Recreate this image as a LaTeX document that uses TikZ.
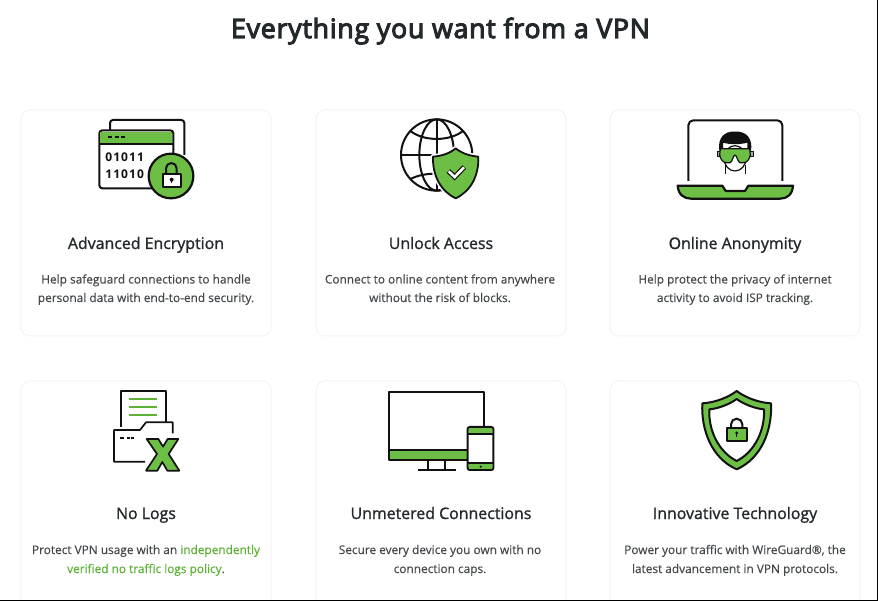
\documentclass[tikz,border=0pt]{standalone}
\usepackage{fontspec}
\setmainfont{Open Sans}
\newfontfamily\titlefont[FakeBold=4,LetterSpace=3.1]{Open Sans}
\newfontfamily\headfont[FakeBold=1.2]{Open Sans}
\newfontfamily\bodyfont[FakeBold=0.3]{Open Sans}
\newfontfamily\bitfont[LetterSpace=9]{Open Sans Bold}
\definecolor{vgreen}{HTML}{6DBE45}
\definecolor{vlink}{HTML}{5DB135}
\definecolor{vink}{HTML}{111111}
\definecolor{vtitle}{HTML}{23282B}
\definecolor{vbody}{HTML}{45494C}
\definecolor{vcard}{HTML}{F4F4F4}
\tikzset{
  card/.style={draw=vcard,line width=1pt,rounded corners=9pt,fill=white},
  headline/.style={anchor=base,font=\titlefont\fontsize{26.6}{32}\selectfont,text=vtitle,inner sep=0pt},
  cardtitle/.style={anchor=base,font=\headfont\fontsize{15.9}{20}\selectfont,text=vtitle,inner sep=0pt},
  cardbody/.style={anchor=base,font=\bodyfont\fontsize{11.85}{18}\selectfont,text=vbody,inner sep=0pt},
  ink/.style={draw=vink,line width=2pt,line join=round},
  thin/.style={draw=vink,line width=1.7pt,line join=round},
  icon/.style={x=0.33333pt,y=-0.33333pt},
  bits/.style={inner sep=0pt,font=\bitfont\fontsize{12}{14}\selectfont,text=vink},
}
\begin{document}
\begin{tikzpicture}[x=1pt,y=-1pt]
\useasboundingbox (0,0) rectangle (878,601);
\fill[white] (0,0) rectangle (878,601);
% cards
\begin{scope}
\clip (0,0) rectangle (878,601);
\foreach \cx in {21,316,610}{
  \draw[card] (\cx,110) rectangle ++(250,226);
  \draw[card] (\cx,381) rectangle ++(250,240);
}
\end{scope}
\draw[black,line width=1pt] (877.5,0) -- (877.5,600.5) -- (0,600.5);
% title
\node[headline] (title) at (440.5,38) {Everything you want from a VPN};
% texts
\node[cardtitle] (t1) at (146,249) {Advanced Encryption};
\node[cardbody] (b1a) at (146,283.5) {Help safeguard connections to handle};
\node[cardbody] (b1b) at (146,302) {personal data with end-to-end security.};
\node[cardtitle] (t2) at (441,249) {Unlock Access};
\node[cardbody] (b2a) at (440,283.5) {Connect to online content from anywhere};
\node[cardbody] (b2b) at (440,302) {without the risk of blocks.};
\node[cardtitle] (t3) at (735,249) {Online Anonymity};
\node[cardbody] (b3a) at (735,283.5) {Help protect the privacy of internet};
\node[cardbody] (b3b) at (735,302) {activity to avoid ISP tracking.};
\node[cardtitle] (t4) at (146,519) {No Logs};
\node[cardbody] (b4a) at (146,554) {Protect VPN usage with an \textcolor{vlink}{independently}};
\node[cardbody] (b4b) at (146,573) {\textcolor{vlink}{verified no traffic logs policy}.};
\node[cardtitle] (t5) at (441,519) {Unmetered Connections};
\node[cardbody] (b5a) at (440,554) {Secure every device you own with no};
\node[cardbody] (b5b) at (440,573) {connection caps.};
\node[cardtitle] (t6) at (735,519) {Innovative Technology};
\node[cardbody] (b6a) at (735,554) {Power your traffic with WireGuard®, the};
\node[cardbody] (b6b) at (735,573) {latest advancement in VPN protocols.};
% icon 1 encryption
\begin{scope}[shift={(80,105)},icon]
\draw[ink,rounded corners=3pt] (90,76) -- (90,45) -- (313,45) -- (313,150);
\draw[ink,fill=white,rounded corners=3pt] (58,76) rectangle (280,250);
\fill[vgreen] (61,80) rectangle (277,114);
\draw[ink] (58,116) -- (280,116);
\draw[vink,line width=2pt] (85,97) -- (97,97) (105,97) -- (117,97) (124,97) -- (136,97);
\node[bits] (bin1) at (134,157) {01011};
\node[bits] (bin2) at (134,208) {11010};
\draw[ink,fill=vgreen,line width=2.2pt] (273,213) circle (67);
\draw[ink] (258,207) -- (258,190) arc (180:360:16) -- (290,207);
\draw[ink,fill=white] (248,207) rectangle (302,247);
\fill[vink] (275,224) circle (6);
\draw[vink,line width=1.4pt] (275,224) -- (275,235);
\end{scope}
% icon 2 globe
\begin{scope}[shift={(390,110)},icon]
\draw[ink] (140,135) circle (107);
\draw[ink] (140,135) ellipse (52 and 107);
\draw[ink] (140,28) -- (140,244);
\draw[ink] (33,135) -- (247,135);
\draw[ink] (60,62) .. controls (100,95) and (180,95) .. (220,62);
\draw[ink] (60,208) .. controls (100,185) and (180,185) .. (220,208);
\draw[white,line width=5pt,line join=round,fill=white] (197,115) .. controls (215,130) and (240,138) .. (265,140) .. controls (267,200) and (240,245) .. (197,265) .. controls (155,245) and (127,200) .. (129,140) .. controls (155,138) and (180,130) .. (197,115) -- cycle;
\draw[ink,line width=1.8pt,fill=vgreen] (197,115) .. controls (215,130) and (240,138) .. (265,140) .. controls (267,200) and (240,245) .. (197,265) .. controls (155,245) and (127,200) .. (129,140) .. controls (155,138) and (180,130) .. (197,115) -- cycle;
\draw[vink,line width=5pt,line cap=butt,line join=miter] (175,183) -- (194,201) -- (223,171);
\draw[white,line width=2.6pt,line cap=butt,line join=miter] (176,184) -- (194,201) -- (222,172);
\end{scope}
% icon 3 laptop
\begin{scope}[shift={(665,110)},icon]
\draw[ink,rounded corners=5pt] (70,213) -- (70,31) -- (352,31) -- (352,213);
\draw[thin,line width=1pt] (180,165) -- (180,192) (240,165) -- (240,192);
\draw[thin,line width=1.2pt,fill=white] (210,145) ellipse (33 and 38);
\fill[vink] (163,122) .. controls (157,85) and (178,62) .. (210,65) .. controls (245,62) and (264,88) .. (258,122) -- (247,122) -- (247,98) .. controls (225,104) and (195,104) .. (174,98) -- (174,122) -- cycle;
\draw[thin,line width=1pt,fill=gray!70] (156,124) rectangle (166,141);
\draw[thin,line width=1pt,fill=gray!70] (254,124) rectangle (264,141);
\draw[thin,line width=1.2pt,fill=vgreen] (166,116) -- (254,116) -- (256,135) .. controls (253,150) and (245,158) .. (235,158) -- (225,158) .. controls (218,158) and (216,135) .. (210,135) .. controls (204,135) and (202,158) .. (195,158) -- (185,158) .. controls (175,158) and (167,150) .. (164,135) -- cycle;
\draw[ink,fill=vgreen,line width=2.2pt] (38,227) -- (172,227) -- (182,243) -- (240,243) -- (250,227) -- (384,227) .. controls (382,255) and (365,266) .. (345,266) -- (78,266) .. controls (58,266) and (40,255) .. (38,227) -- cycle;
\end{scope}
% icon 4 no logs
\begin{scope}[shift={(100,380)},icon]
\draw[thin] (63,140) -- (63,33) -- (197,33) -- (197,125);
\draw[vlink,line width=2pt] (88,58) -- (172,58) (88,82) -- (172,82) (88,104) -- (172,104);
\draw[thin] (135,245) -- (42,245) -- (42,150) -- (120,150) -- (138,127) -- (218,127) -- (218,160);
\draw[vink,line width=1.7pt] (60,174) -- (72,174) (81,174) -- (90,174) (92,174) -- (102,174);
\draw[thin,fill=vgreen,line width=1.7pt] (140,177) -- (175,177) -- (189,200) -- (203,177) -- (235,177) -- (206,222) -- (238,272) -- (202,272) -- (187,246) -- (172,272) -- (138,272) -- (171,222) -- cycle;
\end{scope}
% icon 5 devices
\begin{scope}[shift={(380,380)},icon]
\draw[ink] (262,240) -- (28,240) -- (28,35) -- (312,35) -- (312,141);
\fill[vgreen] (30,212) rectangle (262,238);
\draw[ink] (28,210) -- (262,210);
\draw[ink] (145,240) -- (145,270) (195,240) -- (195,270);
\draw[ink] (115,270) -- (228,270);
\draw[ink,fill=white,rounded corners=2pt] (263,141) rectangle (340,270);
\fill[vgreen] (266,145) rectangle (337,160);
\fill[vgreen] (266,253) rectangle (337,267);
\draw[ink] (263,162) -- (340,162) (263,250) -- (340,250);
\fill[vink] (302,260) circle (3.5);
\end{scope}
% icon 6 shield
\begin{scope}[shift={(690,380)},icon]
\draw[ink,fill=vgreen] (140,33) .. controls (165,52) and (205,68) .. (243,70) .. controls (247,150) and (215,235) .. (140,268) .. controls (65,235) and (33,150) .. (37,70) .. controls (75,68) and (115,52) .. (140,33) -- cycle;
\draw[ink,fill=white] (140,57) .. controls (160,72) and (195,86) .. (222,88) .. controls (225,150) and (195,215) .. (140,243) .. controls (85,215) and (55,150) .. (58,88) .. controls (85,86) and (120,72) .. (140,57) -- cycle;
\draw[ink] (123,143) -- (123,133) arc (180:360:17) -- (157,143);
\draw[ink,fill=vgreen] (110,143) rectangle (170,183);
\fill[vink] (140,159) circle (5);
\draw[vink,line width=1.2pt] (140,159) -- (140,170);
\end{scope}
\end{tikzpicture}
\end{document}
